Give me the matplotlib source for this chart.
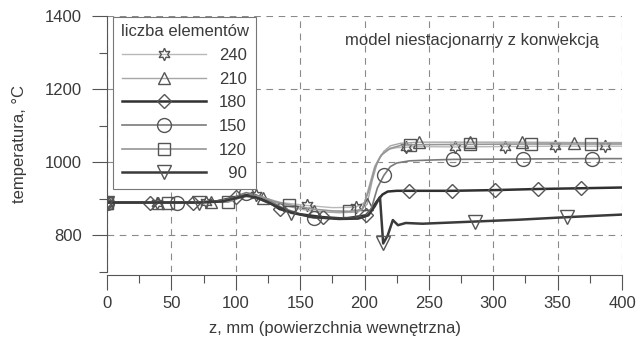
import numpy as np
import matplotlib
matplotlib.use('Agg')
import matplotlib.pyplot as plt
from matplotlib.ticker import MultipleLocator

plt.rcParams['font.family'] = ['Liberation Sans', 'DejaVu Sans']
plt.rcParams['font.size'] = 12

# data (z in mm, T in deg C), marker positions per series
z_240 = [0, 39, 77, 90, 100, 108, 116, 125, 135, 155, 175, 193, 200, 204, 208, 212, 218, 225, 232, 240, 270, 309, 348, 387, 400]
t_240 = [890, 890, 891, 896, 905, 912, 910, 900, 890, 882, 876, 877, 890, 940, 990, 1015, 1035, 1040, 1041, 1043, 1042, 1043, 1044, 1044, 1044]
mk_240 = [0, 39, 77, 116, 155, 193, 232, 270, 309, 348, 387]

z_210 = [0, 40, 81, 95, 105, 112, 121, 135, 150, 161, 180, 195, 202, 206, 210, 215, 220, 228, 242, 282, 322, 363, 400]
t_210 = [890, 890, 892, 900, 910, 913, 903, 885, 872, 866, 862, 864, 885, 950, 1000, 1030, 1045, 1052, 1055, 1055, 1055, 1054, 1054]
mk_210 = [0, 40, 81, 121, 161, 202, 242, 282, 322, 363]

z_180 = [0, 33.5, 67, 85, 100.5, 108, 115, 125, 134, 150, 167.5, 185, 201, 205, 210, 214, 218, 225, 234.5, 268, 301.5, 335, 368.5, 400]
t_180 = [890, 890, 890, 893, 905, 910, 907, 893, 872, 858, 850, 846, 855, 870, 895, 912, 920, 922, 922, 922, 924, 927, 929, 931]
mk_180 = [0, 33.5, 67, 100.5, 134, 167.5, 201, 234.5, 268, 301.5, 335, 368.5]

z_150 = [0, 54, 80, 95, 108, 115, 125, 135, 150, 161, 180, 200, 205, 210, 215, 220, 225, 235, 250, 269, 323, 377, 400]
t_150 = [890, 890, 891, 900, 917, 912, 897, 878, 857, 848, 846, 850, 870, 930, 964, 988, 998, 1004, 1006, 1008, 1009, 1010, 1010]
mk_150 = [0, 54, 108, 161, 215, 269, 323, 377]

z_120 = [0, 47, 94, 105, 112, 120, 130, 141, 160, 175, 188, 198, 203, 208, 213, 220, 228, 235, 282, 329, 376, 400]
t_120 = [890, 890, 891, 905, 910, 906, 893, 884, 872, 867, 866, 870, 920, 985, 1020, 1038, 1046, 1048, 1049, 1050, 1050, 1050]
mk_120 = [0, 47, 94, 141, 188, 235, 282, 329, 376]

z_90 = [0, 71.5, 90, 100, 108, 115, 125, 143, 160, 180, 195, 203, 208, 212, 214.5, 218, 222, 226, 232, 245, 286, 320, 357.5, 400]
t_90 = [890, 890, 893, 902, 908, 905, 890, 862, 850, 845, 846, 855, 880, 905, 778, 800, 842, 828, 834, 832, 838, 843, 850, 857]
mk_90 = [0, 71.5, 143, 214.5, 286, 357.5]

labels = ['240', '210', '180', '150', '120', '  90']

series = [
    (z_240, t_240, mk_240, (6, 1, 0), '#b8b8b8', 1.0, 9),
    (z_210, t_210, mk_210, '^', '#a6a6a6', 1.0, 9),
    (z_180, t_180, mk_180, 'D', '#303030', 1.8, 7),
    (z_150, t_150, mk_150, 'o', '#7a7a7a', 1.2, 10),
    (z_120, t_120, mk_120, 's', '#959595', 1.2, 9),
    (z_90, t_90, mk_90, 'v', '#3a3a3a', 1.8, 10),
]

fig = plt.figure(figsize=(6.43, 3.42), dpi=100)
ax = fig.add_axes([0.1664, 0.2047, 0.801, 0.7485])

for (z, t, mk, m, c, lw, ms), lab in zip(series, labels):
    idx = [z.index(v) for v in mk]
    ax.plot(z, t, color=c, lw=lw, marker=m, markevery=idx, ms=ms,
            mfc='none', mec='#555555', mew=1.0, label=lab)

ax.set_xlim(0, 400)
ax.set_ylim(700, 1400)
ax.xaxis.set_major_locator(MultipleLocator(50))
ax.xaxis.set_minor_locator(MultipleLocator(25))
ax.yaxis.set_major_locator(MultipleLocator(200))
ax.yaxis.set_minor_locator(MultipleLocator(100))

ax.grid(True, which='major', color='#8a8a8a', lw=0.8, ls=(0, (6, 5)))
for s in ['top', 'right']:
    ax.spines[s].set_visible(False)
ax.spines['left'].set_color('#555555')
ax.spines['bottom'].set_color('#555555')
ax.spines['bottom'].set_position(('outward', 2))

ax.tick_params(axis='both', which='both', colors='#555555', labelcolor='#3a3a3a', width=0.8)
ax.tick_params(axis='y', which='major', length=11, pad=7)
ax.tick_params(axis='y', which='minor', length=6)
ax.tick_params(axis='x', which='major', length=11, pad=4)
ax.tick_params(axis='x', which='minor', length=6)

ax.set_xlabel('z, mm (powierzchnia wewnętrzna)', color='#3a3a3a')
ax.xaxis.set_label_coords(0.443, -0.19)
ax.set_ylabel('temperatura, °C', color='#3a3a3a', labelpad=13)

ax.text(185, 1334, 'model niestacjonarny z konwekcją', color='#3a3a3a', va='center', ha='left')

leg = ax.legend(title='liczba elementów', loc='upper left', bbox_to_anchor=(0.012, 0.997),
                borderaxespad=0, fancybox=False, framealpha=1, edgecolor='#777777',
                handlelength=5.0, labelspacing=0.52, handletextpad=0.8, borderpad=0.45)
leg.get_frame().set_linewidth(0.8)
leg.get_title().set_color('#3a3a3a')
for tx in leg.get_texts():
    tx.set_color('#3a3a3a')

plt.savefig('out.png', dpi=100)
